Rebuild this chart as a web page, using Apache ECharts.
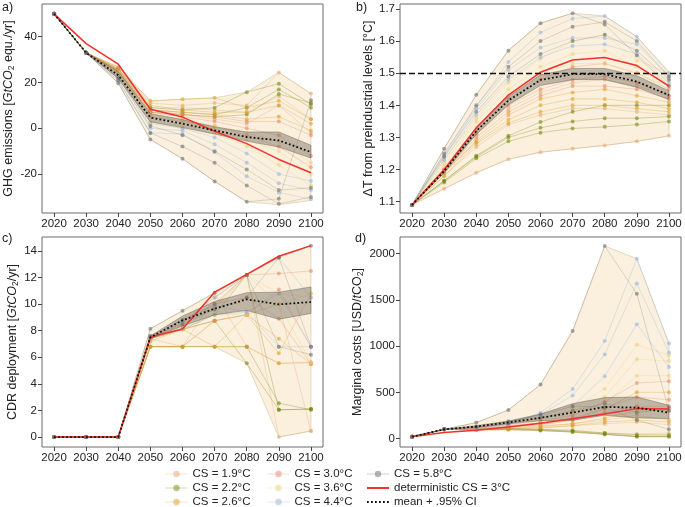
<!DOCTYPE html>
<html><head><meta charset="utf-8">
<script src="https://cdn.jsdelivr.net/npm/echarts@6/dist/echarts.min.js"></script>
<style>html,body{margin:0;padding:0;background:#fff}#c{width:685px;height:507px}</style>
</head><body><div id="c"></div>
<script>
// ---------- DATA ----------
const years = [2020,2030,2040,2050,2060,2070,2080,2090,2100];
const csNames = ['CS = 1.9°C','CS = 2.2°C','CS = 2.6°C','CS = 3.0°C','CS = 3.6°C','CS = 4.4°C','CS = 5.8°C'];
const detName = 'deterministic CS = 3°C';
const meanName = 'mean + .95% CI';

// a) GHG emissions
const ghg_cs19 = [[50,33,26,11,10,11,10,24.4,15.2],[50,33,25.5,9,9,8,7,14,4],[50,33,25,7,6,4,2,10,-2]];
const ghg_cs22 = [[50,33,26,9,8,9,15.8,19.5,10.5],[50,33,25.5,8,7,6,9,17,9],[50,33,25,7,6,5,6,15,11]];
const ghg_cs26 = [[50,33,25.5,8,7,6,4,5,-1],[50,33,26,10,8,7,7,10,2],[50,33,26.8,12,12.7,13.3,9,12,4]];
const ghg_cs30 = [[50,33,24,5,3,1,-3,-8,-17],[50,33,25,7,5,3,0,-3,-12],[50,33,25,8,6,5,3,3,-3]];
const ghg_cs36 = [[50,33,23,3,1,-2,-8,-16,-25],[50,33,24,5,3,0,-5,-10,-20],[50,33,24.5,6,4,1,-2,-6,-15]];
const ghg_cs44 = [[50,33,20.5,-2,-2.5,-10.5,-21,-28,-31],[50,33,22,0,-1,-7,-15,-24,-27],[50,33,23,2,0,-4,-11,-20,-23]];
const ghg_cs58 = [[50,33,19.7,-4.9,-13.3,-23.2,-32.1,-30.8,12.2],[50,33,21,-2,-8,-15,-25,-33,-30],[50,33,22,1,-3,-10,-18,-27,-26]];
const ghgMax = [50,33,26.8,11.9,12.7,13.3,15.8,24.4,15.2];
const ghgMin = [50,33,19.7,-4.9,-13.3,-23.2,-32.1,-33.4,-31.5];
const ghgMean = [50,33,23.2,4.7,2.0,-0.9,-3.8,-5.3,-10.4];
const ghgHi = [50,33,24.8,6.4,3.8,0.6,-1.6,-1.6,-7.4];
const ghgLo = [50,33,21.8,2.8,0.3,-2.5,-5.6,-8.2,-13];
const ghgDet = [50,37,28,8.3,4.9,-1.3,-6.7,-13.6,-19.4];

// b) temperature
const tmp_cs19 = [[1.09,1.14,1.19,1.232,1.254,1.265,1.275,1.288,1.305],[1.09,1.18,1.27,1.34,1.37,1.39,1.39,1.38,1.37],[1.09,1.20,1.31,1.39,1.44,1.47,1.48,1.46,1.43]];
const tmp_cs22 = [[1.09,1.165,1.243,1.305,1.348,1.38,1.40,1.40,1.40],[1.09,1.165,1.24,1.30,1.33,1.35,1.36,1.36,1.365],[1.09,1.16,1.235,1.288,1.315,1.328,1.333,1.34,1.35]];
const tmp_cs26 = [[1.09,1.19,1.29,1.37,1.42,1.44,1.45,1.43,1.41],[1.09,1.19,1.285,1.355,1.40,1.42,1.42,1.41,1.39],[1.09,1.18,1.28,1.345,1.38,1.40,1.40,1.39,1.38]];
const tmp_cs30 = [[1.09,1.20,1.32,1.42,1.48,1.52,1.53,1.50,1.45],[1.09,1.20,1.31,1.40,1.45,1.48,1.49,1.47,1.43],[1.09,1.19,1.30,1.38,1.43,1.46,1.46,1.45,1.42]];
const tmp_cs36 = [[1.09,1.23,1.36,1.47,1.545,1.60,1.62,1.54,1.50],[1.09,1.22,1.35,1.45,1.52,1.56,1.57,1.52,1.48],[1.09,1.21,1.33,1.43,1.50,1.53,1.53,1.50,1.46]];
const tmp_cs44 = [[1.09,1.245,1.395,1.535,1.627,1.67,1.678,1.614,1.50],[1.09,1.24,1.39,1.51,1.58,1.61,1.61,1.59,1.49],[1.09,1.23,1.37,1.48,1.55,1.585,1.59,1.56,1.47]];
const tmp_cs58 = [[1.09,1.265,1.433,1.57,1.656,1.687,1.652,1.555,1.46],[1.09,1.25,1.40,1.52,1.60,1.645,1.66,1.60,1.49],[1.09,1.24,1.38,1.49,1.56,1.60,1.62,1.57,1.48]];
const tmpMax = [1.09,1.265,1.433,1.572,1.656,1.687,1.678,1.614,1.505];
const tmpMin = [1.09,1.14,1.19,1.232,1.254,1.265,1.275,1.288,1.305];
const tmpMean = [1.09,1.195,1.32,1.415,1.479,1.497,1.497,1.474,1.432];
const tmpHi = [1.09,1.20,1.33,1.427,1.495,1.515,1.515,1.492,1.445];
const tmpLo = [1.09,1.19,1.31,1.402,1.462,1.48,1.48,1.456,1.418];
const tmpDet = [1.09,1.20,1.33,1.432,1.503,1.541,1.549,1.524,1.46];
const tempLimit = 1.5;

// c) CDR deployment
const cdr_cs19 = [[0,0,0,6.8,6.8,10.5,12.2,0.0,0.45],[0,0,0,7.5,8.1,10.85,6.8,5.55,5.6],[0,0,0,7.4,6.8,8.75,9.2,10.0,0.45]];
const cdr_cs22 = [[0,0,0,7.4,8.1,8.75,5.55,2.05,2.1],[0,0,0,6.8,6.8,6.8,6.8,2.55,2.05],[0,0,0,7.4,8.1,9.2,12.2,2.05,2.1]];
const cdr_cs26 = [[0,0,0,6.8,6.8,6.8,6.8,5.55,5.6],[0,0,0,6.8,6.8,8.75,9.2,7.4,5.5],[0,0,0,7.2,8.1,6.8,9.2,6.3,10.8]];
const cdr_cs30 = [[0,0,0,7.5,8.4,9.8,12.2,12.3,12.5],[0,0,0,7.4,8.1,8.75,9.2,11.1,6.8],[0,0,0,7.5,8.6,10.0,10.5,8.9,5.5]];
const cdr_cs36 = [[0,0,0,7.5,8.6,9.6,12.2,10.8,10.5],[0,0,0,7.4,8.1,9.2,9.2,10.0,10.8],[0,0,0,7.5,8.8,10.5,12.2,10.0,5.6]];
const cdr_cs44 = [[0,0,0,7.6,8.8,9.9,9.4,6.8,6.8],[0,0,0,7.5,8.6,10.5,12.2,13.5,10.5],[0,0,0,7.4,8.2,9.2,9.4,10.8,6.8]];
const cdr_cs58 = [[0,0,0,8.15,9.5,10.85,12.2,13.5,14.4],[0,0,0,7.6,8.8,10.0,12.2,6.8,6.2],[0,0,0,7.5,8.5,9.6,10.5,13.5,6.8]];
const cdrMax = [0,0,0,8.15,9.5,10.85,12.2,13.6,14.4];
const cdrMin = [0,0,0,6.8,6.8,6.8,5.55,0,0.45];
const cdrMean = [0,0,0,7.5,8.78,9.66,10.36,9.98,10.16];
const cdrHi = [0,0,0,7.6,9.1,10.2,10.86,10.9,11.29];
const cdrLo = [0,0,0,7.4,8.35,9.2,9.53,8.86,9.3];
const cdrDet = [0,0,0,7.52,8.13,10.9,12.24,13.6,14.4];

// d) marginal costs
const cost_cs19 = [[20,100,95,95,85,75,60,50,60],[20,100,100,110,120,140,160,180,150],[20,100,110,130,140,160,200,250,200]];
const cost_cs22 = [[20,100,100,110,100,90,60,40,40],[20,100,100,105,95,80,50,25,25],[20,100,95,100,90,70,45,20,20]];
const cost_cs26 = [[20,100,110,120,150,200,320,500,500],[20,100,105,110,130,160,220,300,300],[20,100,100,100,115,140,180,200,180]];
const cost_cs30 = [[20,100,120,150,190,250,400,601,620],[20,100,115,140,170,220,330,450,420],[20,100,110,130,160,200,280,350,350]];
const cost_cs36 = [[20,100,130,180,230,320,540,1016,900],[20,100,120,170,220,300,450,857,840],[20,100,125,160,210,280,380,680,680]];
const cost_cs44 = [[20,100,90,150,280,535,1055,1946,1027],[20,100,100,170,260,465,910,1676,930],[20,100,120,190,240,350,675,1236,774]];
const cost_cs58 = [[20,100,173,309,584,1163,2082,1565,300],[20,100,130,180,260,350,340,200,100],[20,100,120,160,220,300,380,280,330]];
const costMax = [20,100,173,309,584,1163,2082,1946,1027];
const costMin = [20,100,90,95,85,70,45,20,20];
const costMean = [20,100,130,175,225,281,342,335,281];
const costHi = [20,100,140,190,265,378,443,450,360];
const costLo = [20,100,120,160,195,198,252,223,216];
const costDet = [20,65,90,125,165,215,266,324,320];

// tick labels
const xTicks = years;
const ghgTicks = [-20,0,20,40];
const tmpTicks = [1.1,1.2,1.3,1.4,1.5,1.6,1.7];
const cdrTicks = [0,2,4,6,8,10,12,14];
const costTicks = [0,500,1000,1500,2000];

// ---------- STYLE / BUILD ----------
const csColors = ['rgb(225,170,115)','rgb(120,135,15)','rgb(226,158,40)','rgb(236,135,105)','rgb(236,212,120)','rgb(150,182,222)','rgb(110,110,110)'];
const csLineOpacity = [0.4,0.4,0.4,0.4,0.4,0.4,0.3];
const FONT = 'Liberation Sans, Arial, sans-serif';
const pair = arr => arr.map((v,i)=>[years[i], v]);

const panels = [
  {runs:[ghg_cs19,ghg_cs22,ghg_cs26,ghg_cs30,ghg_cs36,ghg_cs44,ghg_cs58], max:ghgMax, min:ghgMin, mean:ghgMean, hi:ghgHi, lo:ghgLo, det:ghgDet,
   grid:{left:42,top:4,width:281,height:209}, ymin:-37, ymax:54.3, ticks:ghgTicks, fmt:v=>String(v),
   name:'{a|GHG emissions [}{i|GtCO}{s|2}{a| equ./yr]}', nameGap:20},
  {runs:[tmp_cs19,tmp_cs22,tmp_cs26,tmp_cs30,tmp_cs36,tmp_cs44,tmp_cs58], max:tmpMax, min:tmpMin, mean:tmpMean, hi:tmpHi, lo:tmpLo, det:tmpDet,
   grid:{left:400,top:4,width:281,height:209}, ymin:1.0648, ymax:1.7156, ticks:tmpTicks, fmt:v=>v.toFixed(1),
   name:'{a|ΔT from preindustrial levels [°C]}', nameGap:17},
  {runs:[cdr_cs19,cdr_cs22,cdr_cs26,cdr_cs30,cdr_cs36,cdr_cs44,cdr_cs58], max:cdrMax, min:cdrMin, mean:cdrMean, hi:cdrHi, lo:cdrLo, det:cdrDet,
   grid:{left:42,top:237,width:281,height:210}, ymin:-0.75, ymax:15.05, ticks:cdrTicks, fmt:v=>String(v),
   name:'{a|CDR deployment [}{i|GtCO}{s|2}{a|/yr]}', nameGap:20},
  {runs:[cost_cs19,cost_cs22,cost_cs26,cost_cs30,cost_cs36,cost_cs44,cost_cs58], max:costMax, min:costMin, mean:costMean, hi:costHi, lo:costLo, det:costDet,
   grid:{left:400,top:237,width:281,height:210}, ymin:-91, ymax:2180, ticks:costTicks, fmt:v=>String(v),
   name:'{a|Marginal costs [USD/}{i|t}{a|CO}{s|2}{a|]}', nameGap:30}
];

const rich = {
  a:{fontSize:12.5, fontFamily:FONT, color:'#222', lineHeight:16, verticalAlign:'middle'},
  i:{fontSize:12.5, fontFamily:FONT, color:'#222', fontStyle:'italic', lineHeight:16, verticalAlign:'middle'},
  s:{fontSize:8.5, fontFamily:FONT, color:'#222', lineHeight:16, verticalAlign:'bottom', padding:[6,0,0,0]}
};

function band(k, upper, lower, fill, stroke, z) {
  return {type:'custom', coordinateSystem:'cartesian2d', xAxisIndex:k, yAxisIndex:k, silent:true, z:z,
    data:[[years[4], upper[4]]],
    renderItem:(params, api)=>{
      const top = upper.map((v,i)=>api.coord([years[i], v]));
      const bot = lower.map((v,i)=>api.coord([years[i], v])).reverse();
      return {type:'polygon', shape:{points:top.concat(bot)}, style:{fill:fill, stroke:stroke, lineWidth:0.8}};
    }};
}

const grids=[], xAxes=[], yAxes=[], series=[];
panels.forEach((p,k)=>{
  grids.push(Object.assign({show:true, borderColor:'#6b6b6b', borderWidth:1, backgroundColor:'transparent'}, p.grid));
  xAxes.push({type:'value', gridIndex:k, min:2016.25, max:2103.75,
    axisLine:{show:false, onZero:false}, splitLine:{show:false},
    axisTick:{show:true, length:4, inside:false, customValues:xTicks, lineStyle:{color:'#444'}},
    axisLabel:{customValues:xTicks, fontSize:11.5, color:'#222', fontFamily:FONT, margin:5, formatter:v=>String(v)}});
  yAxes.push({type:'value', gridIndex:k, min:p.ymin, max:p.ymax,
    axisLine:{show:false, onZero:false}, splitLine:{show:false},
    axisTick:{show:true, length:4, customValues:p.ticks, lineStyle:{color:'#444'}},
    axisLabel:{customValues:p.ticks, fontSize:11.5, color:'#222', fontFamily:FONT, margin:5, formatter:p.fmt},
    name:p.name, nameLocation:'middle', nameRotate:90, nameGap:p.nameGap,
    nameTextStyle:{rich:rich, fontSize:12.5, fontFamily:FONT, color:'#222'}});
  // envelope (min–max over all runs)
  series.push(band(k, p.max, p.min, 'rgba(242,216,165,0.38)', 'rgba(210,190,150,0.7)', 1));
  // runs
  p.runs.forEach((grp,g)=>{
    grp.forEach(run=>{
      series.push({type:'line', name:csNames[g], xAxisIndex:k, yAxisIndex:k, data:pair(run),
        symbol:'circle', symbolSize:4, showSymbol:true,
        lineStyle:{color:csColors[g], width:0.8, opacity:csLineOpacity[g]}, itemStyle:{color:csColors[g], opacity:0.6}, z:2});
    });
  });
  // 95% CI band
  series.push(band(k, p.hi, p.lo, 'rgba(120,108,95,0.45)', 'rgba(90,80,68,0.5)', 3));
  // deterministic
  const det = {type:'line', name:detName, xAxisIndex:k, yAxisIndex:k, data:pair(p.det), symbol:'none',
    lineStyle:{color:'#f2312b', width:1.5}, itemStyle:{color:'#f2312b'}, z:4};
  if (k===1) det.markLine = {silent:true, symbol:'none', label:{show:false}, lineStyle:{color:'#111', type:[6,3], width:1.3},
    data:[{yAxis:tempLimit}]};
  series.push(det);
  // mean
  series.push({type:'line', name:meanName, xAxisIndex:k, yAxisIndex:k, data:pair(p.mean), symbol:'none',
    lineStyle:{color:'#111', width:1.8, type:[1.8,2.2]}, itemStyle:{color:'#111'}, z:5});
});

const fadeItem = n => ({name:n, itemStyle:{opacity:0.5}, lineStyle:{opacity:0.3, width:1}});
const plainItem = n => ({name:n, itemStyle:{opacity:0}});
const legBase = {orient:'vertical', itemWidth:22, itemHeight:8, itemGap:2, selectedMode:false, padding:0, height:80,
  textStyle:{fontSize:11.5, color:'#222', fontFamily:FONT}};
const legends = [
  Object.assign({}, legBase, {left:165, top:468, data:[fadeItem(csNames[0]),fadeItem(csNames[1]),fadeItem(csNames[2])]}),
  Object.assign({}, legBase, {left:267, top:468, data:[fadeItem(csNames[3]),fadeItem(csNames[4]),fadeItem(csNames[5])]}),
  Object.assign({}, legBase, {left:366, top:468, data:[fadeItem(csNames[6]),plainItem(detName),plainItem(meanName)]})
];

const chart = echarts.init(document.getElementById('c'), null, {renderer:'canvas'});
chart.setOption({
  animation:false, backgroundColor:'#fff',
  grid:grids, xAxis:xAxes, yAxis:yAxes, series:series, legend:legends,
  graphic:[
    {type:'text', left:2, top:1, style:{text:'a)', fontSize:12.5, fill:'#222', fontFamily:FONT}},
    {type:'text', left:356, top:1, style:{text:'b)', fontSize:12.5, fill:'#222', fontFamily:FONT}},
    {type:'text', left:2, top:232, style:{text:'c)', fontSize:12.5, fill:'#222', fontFamily:FONT}},
    {type:'text', left:355, top:232, style:{text:'d)', fontSize:12.5, fill:'#222', fontFamily:FONT}}
  ]
});
</script></body></html>
